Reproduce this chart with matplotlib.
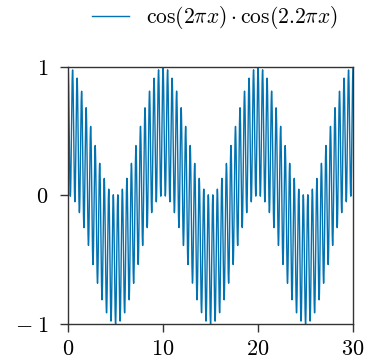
import numpy as np
import matplotlib
matplotlib.use("Agg")
import matplotlib.pyplot as plt

plt.rcParams['mathtext.fontset'] = 'cm'
plt.rcParams['font.family'] = 'serif'
plt.rcParams['font.serif'] = ['cmr10', 'DejaVu Serif']
plt.rcParams['axes.formatter.use_mathtext'] = True

# the curve is the function named in the legend: cos(a*pi*x) * cos(b*pi*x)
coef_a = 2.0
coef_b = 2.2
x_range = [0, 30]
n_samples = 3000

x_ticks = [0, 10, 20, 30]
x_labels = ['$0$', '$10$', '$20$', '$30$']
y_ticks = [-1, 0, 1]
y_labels = [r'$-\;1$', '$0$', '$1$']

x = np.linspace(x_range[0], x_range[1], n_samples)
y = np.cos(coef_a * np.pi * x) * np.cos(coef_b * np.pi * x)

fig = plt.figure(figsize=(3.74, 3.61), dpi=100)
ax = fig.add_axes([0.182, 0.1025, 0.762, 0.712])
ax.plot(x, y, color='#0173B2', lw=1.0, label=r'$\cos(2\pi x)\cdot\cos(2.2\pi x)$')

ax.set_xlim(x_range)
ax.set_ylim(-1, 1)
ax.set_xticks(x_ticks)
ax.set_xticklabels(x_labels, fontsize=16)
ax.set_yticks(y_ticks)
ax.set_yticklabels(y_labels, fontsize=16)
ax.tick_params(direction='out', length=6, width=1, colors='#333333', labelcolor='black')
ax.tick_params(axis='x', pad=5)
ax.tick_params(axis='y', pad=8)
for s in ax.spines.values():
    s.set_color('#333333')
    s.set_linewidth(1)

ax.legend(loc='lower center', bbox_to_anchor=(0.515, 1.08), frameon=False,
          fontsize=15.5, handlelength=1.7, borderpad=0.2)

fig.savefig('out.png', dpi=100)
